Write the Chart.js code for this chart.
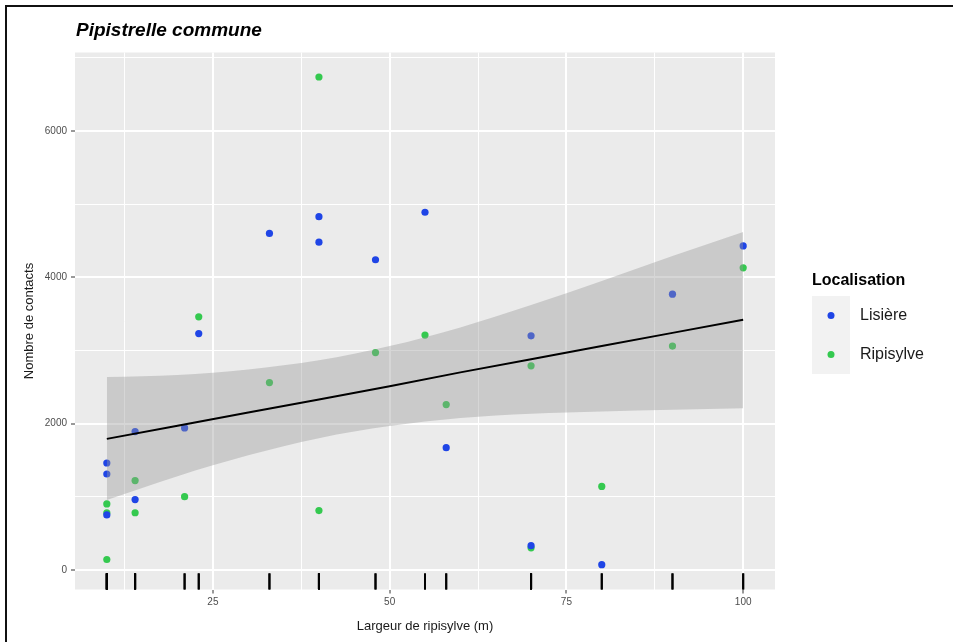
<!DOCTYPE html>
<html>
<head>
<meta charset="utf-8">
<script src="https://cdn.jsdelivr.net/npm/chart.js@4"></script>
<style>
  html, body { margin: 0; padding: 0; background: #fff; }
  #wrap { position: relative; width: 953px; height: 642px; }
  #frame { position: absolute; left: 5px; top: 5px; right: 0; bottom: 0;
           border-top: 2px solid #111; border-left: 2px solid #111; pointer-events: none; }
</style>
</head>
<body>
<div id="wrap">
  <canvas id="chart" width="953" height="642"></canvas>
  <div id="frame"></div>
</div>
<script>
// Lisière points (largeur en m, nombre de contacts)
const widthLisiere    = [10, 10, 10, 14, 14, 21, 23, 33, 40, 40, 48, 55, 58, 70, 70, 80, 90, 100];
const contactsLisiere = [1460, 1310, 750, 1890, 960, 1940, 3230, 4600, 4830, 4480, 4240, 4890, 1670, 3200, 330, 70, 3770, 4430];

// Ripisylve points
const widthRipisylve    = [10, 10, 10, 14, 14, 21, 23, 33, 40, 40, 48, 55, 58, 70, 70, 80, 90, 100];
const contactsRipisylve = [900, 780, 140, 1220, 780, 1000, 3460, 2560, 6740, 810, 2970, 3210, 2260, 2790, 300, 1140, 3060, 4130];

// regression line + confidence band
const fitX      = [10, 20, 30, 40, 50, 60, 70, 80, 90, 100];
const fitY      = [1790, 1970, 2150, 2330, 2510, 2700, 2880, 3060, 3240, 3420];
const bandUpper = [2635, 2665, 2740, 2865, 3060, 3315, 3620, 3950, 4290, 4620];
const bandLower = [955, 1280, 1565, 1800, 1965, 2075, 2135, 2165, 2190, 2210];

// grid positions (major ones get a label)
const xGrid = [12.5, 25, 37.5, 50, 62.5, 75, 87.5, 100];
const yGrid = [0, 1000, 2000, 3000, 4000, 5000, 6000, 7000];
const xTickLabels = [25, 50, 75, 100];
const yTickLabels = [0, 2000, 4000, 6000];

const colLisiere = '#1f45e6';
const colRipisylve = '#34c94f';

const pts = (xs, ys) => xs.map((x, i) => ({ x: x, y: ys[i] }));
const rugX = widthLisiere.concat(widthRipisylve);
const fontFam = '"Liberation Sans", Arial, sans-serif';

const ggDecor = {
    id: 'ggDecor',
    beforeDraw(chart) {
        const { ctx, chartArea: a } = chart;
        ctx.save();
        ctx.fillStyle = '#ebebeb';
        ctx.fillRect(a.left, a.top, a.right - a.left, a.bottom - a.top);
        ctx.restore();
    },
    afterDatasetsDraw(chart) {
        const { ctx, chartArea: a, scales } = chart;
        // rug along x
        ctx.save();
        ctx.strokeStyle = '#000';
        ctx.lineWidth = 2;
        const len = (a.bottom - a.top) * 0.03;
        rugX.forEach(v => {
            const px = scales.x.getPixelForValue(v);
            ctx.beginPath();
            ctx.moveTo(px, a.bottom);
            ctx.lineTo(px, a.bottom - len);
            ctx.stroke();
        });
        ctx.restore();
    },
    afterDraw(chart) {
        const { ctx } = chart;
        ctx.save();
        // title
        ctx.fillStyle = '#000';
        ctx.font = 'italic bold 19px ' + fontFam;
        ctx.textBaseline = 'alphabetic';
        ctx.fillText('Pipistrelle commune', 76, 36);

        // legend
        ctx.font = 'bold 16px ' + fontFam;
        ctx.fillText('Localisation', 812, 285);
        const keys = [['Lisière', colLisiere], ['Ripisylve', colRipisylve]];
        keys.forEach((k, i) => {
            const top = 296 + i * 39;
            ctx.fillStyle = '#f2f2f2';
            ctx.fillRect(812, top, 38, 39);
            ctx.fillStyle = k[1];
            ctx.beginPath();
            ctx.arc(831, top + 19.5, 3.5, 0, Math.PI * 2);
            ctx.fill();
            ctx.fillStyle = '#1a1a1a';
            ctx.font = '16px ' + fontFam;
            ctx.textBaseline = 'middle';
            ctx.fillText(k[0], 860, top + 20);
        });
        ctx.restore();
    }
};

new Chart(document.getElementById('chart'), {
    type: 'scatter',
    data: {
        datasets: [
            {
                type: 'line',
                label: 'fit',
                data: pts(fitX, fitY),
                borderColor: '#000',
                borderWidth: 2,
                pointRadius: 0,
                fill: false,
                order: 0
            },
            {
                type: 'line',
                label: 'upper',
                data: pts(fitX, bandUpper),
                borderWidth: 0,
                borderColor: 'transparent',
                backgroundColor: 'rgba(153,153,153,0.4)',
                pointRadius: 0,
                cubicInterpolationMode: 'monotone',
                fill: '+1',
                order: 1
            },
            {
                type: 'line',
                label: 'lower',
                data: pts(fitX, bandLower),
                borderWidth: 0,
                borderColor: 'transparent',
                pointRadius: 0,
                cubicInterpolationMode: 'monotone',
                fill: false,
                order: 1
            },
            {
                label: 'Lisière',
                data: pts(widthLisiere, contactsLisiere),
                backgroundColor: colLisiere,
                borderWidth: 0,
                pointRadius: 3.6,
                order: 2
            },
            {
                label: 'Ripisylve',
                data: pts(widthRipisylve, contactsRipisylve),
                backgroundColor: colRipisylve,
                borderWidth: 0,
                pointRadius: 3.6,
                order: 2
            }
        ]
    },
    options: {
        responsive: false,
        animation: false,
        layout: { padding: { left: 0, top: 52.5, right: 178, bottom: 0 } },
        plugins: {
            legend: { display: false },
            tooltip: { enabled: false }
        },
        scales: {
            x: {
                type: 'linear',
                min: 5.5,
                max: 104.5,
                afterBuildTicks: s => { s.ticks = xGrid.map(v => ({ value: v })); },
                afterFit: s => { s.height = 52.5; },
                border: { display: false },
                grid: {
                    color: '#fff',
                    lineWidth: c => (c.tick && xTickLabels.includes(c.tick.value)) ? 2 : 1,
                    tickColor: c => (c.tick && xTickLabels.includes(c.tick.value)) ? '#333' : 'transparent',
                    tickLength: 4,
                    tickWidth: 1
                },
                ticks: {
                    autoSkip: false,
                    maxRotation: 0,
                    padding: 3,
                    color: '#4d4d4d',
                    font: { family: fontFam, size: 10 },
                    callback: v => xTickLabels.includes(v) ? String(v) : ''
                },
                title: {
                    display: true,
                    text: 'Largeur de ripisylve (m)',
                    color: '#1a1a1a',
                    font: { family: fontFam, size: 13 },
                    padding: { top: 0, bottom: 8 }
                }
            },
            y: {
                type: 'linear',
                min: -270,
                max: 7075,
                afterBuildTicks: s => { s.ticks = yGrid.map(v => ({ value: v })); },
                afterFit: s => { s.width = 75; },
                border: { display: false },
                grid: {
                    color: '#fff',
                    lineWidth: c => (c.tick && yTickLabels.includes(c.tick.value)) ? 2 : 1,
                    tickColor: c => (c.tick && yTickLabels.includes(c.tick.value)) ? '#333' : 'transparent',
                    tickLength: 4,
                    tickWidth: 1
                },
                ticks: {
                    autoSkip: false,
                    padding: 4,
                    color: '#4d4d4d',
                    font: { family: fontFam, size: 10 },
                    callback: v => yTickLabels.includes(v) ? String(v) : ''
                },
                title: {
                    display: true,
                    text: 'Nombre de contacts',
                    color: '#1a1a1a',
                    font: { family: fontFam, size: 13 },
                    padding: { top: 22, bottom: 0 }
                }
            }
        }
    },
    plugins: [ggDecor]
});
</script>
</body>
</html>
